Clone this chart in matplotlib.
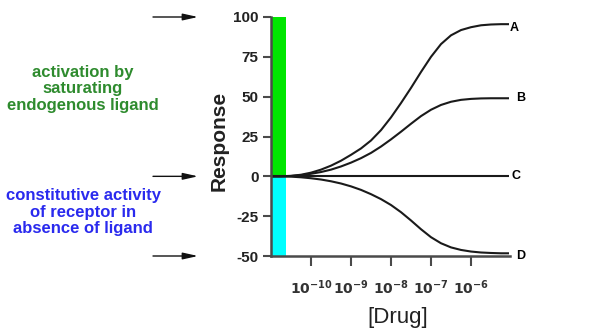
import numpy as np
import matplotlib
matplotlib.use("Agg")
import matplotlib.pyplot as plt

plt.rcParams['font.family'] = ['Liberation Sans', 'DejaVu Sans']
plt.rcParams['mathtext.default'] = 'regular'

# ---- data ----
log_conc = [-11.0, -10.75, -10.5, -10.25, -10.0, -9.75, -9.5, -9.25, -9.0, -8.75,
            -8.5, -8.25, -8.0, -7.75, -7.5, -7.25, -7.0, -6.75, -6.5, -6.25,
            -6.0, -5.75, -5.5, -5.25, -5.05]
resp_A = [0, 0, 0.3, 1.0, 2.3, 4.2, 6.7, 9.8, 13.5, 17.5,
          22.5, 29.0, 37.0, 46.0, 55.5, 65.5, 75.0, 83.0, 88.5, 91.8,
          93.6, 94.8, 95.3, 95.5, 95.5]
resp_B = [0, 0, 0.2, 0.7, 1.6, 2.7, 4.2, 6.2, 8.6, 11.4,
          14.7, 18.7, 23.2, 28.0, 33.0, 37.8, 41.8, 44.8, 46.8, 48.0,
          48.6, 48.9, 49.0, 49.0, 49.0]
resp_C = [0] * len(log_conc)
resp_D = [0, 0, -0.2, -0.6, -1.2, -2.0, -3.1, -4.5, -6.3, -8.5,
          -11.2, -14.3, -18.0, -22.5, -27.7, -33.2, -38.2, -42.0, -44.6, -46.2,
          -47.2, -47.8, -48.1, -48.3, -48.3]
curve_names = ['A', 'B', 'C', 'D']

bar_values = [100, -50]          # saturating endogenous ligand / constitutive activity
bar_colors = ['#00e600', '#00ffff']

yticks = [-50, -25, 0, 25, 50, 75, 100]
xtick_exps = [-10, -9, -8, -7, -6]
xtick_labels = [r'$\mathbf{10^{-10}}$', r'$\mathbf{10^{-9}}$', r'$\mathbf{10^{-8}}$',
                r'$\mathbf{10^{-7}}$', r'$\mathbf{10^{-6}}$']
arrow_levels = [100, 0, -50]

green_text = "activation by\nsaturating\nendogenous ligand"
blue_text = "constitutive activity\nof receptor in\nabsence of ligand"

# ---- figure ----
W, H = 606, 332
fig = plt.figure(figsize=(W / 100, H / 100), dpi=100)
ax = fig.add_axes([271 / W, 1 - 256 / H, (510 - 271) / W, (256 - 17) / H])
ax.set_xscale('log')
ax.set_xlim(1e-11, 10 ** -5.025)
ax.set_ylim(-50, 100)

drug = 10 ** np.array(log_conc)

# bars at the left edge
bar_left = 1e-11
bar_width = 10 ** -10.6375 - 1e-11
for v, c in zip(bar_values, bar_colors):
    ax.bar(bar_left, v, width=bar_width, align='edge', color=c, linewidth=0, zorder=1)

curve_color = '#1a1a1a'
offsets = {'A': (1, -4), 'B': (7, 0), 'C': (3, 0), 'D': (7, -3)}
for name, vals in zip(curve_names, [resp_A, resp_B, resp_C, resp_D]):
    ax.plot(drug, vals, color=curve_color, lw=1.5, zorder=3,
            solid_capstyle='butt', solid_joinstyle='round')
    ax.annotate(name, xy=(drug[-1], vals[-1]), xytext=offsets[name],
                textcoords='offset pixels', ha='left', va='center',
                fontsize=9, fontweight='bold', color='black', annotation_clip=False)

# axes styling
spine_color = '#4a4a4a'
for s in ['top', 'right']:
    ax.spines[s].set_visible(False)
for s in ['left', 'bottom']:
    ax.spines[s].set_color(spine_color)
    ax.spines[s].set_linewidth(1.8)
    ax.spines[s].set_zorder(4)

ax.set_yticks(yticks)
ax.set_yticklabels([str(t) for t in yticks])
ax.tick_params(axis='y', direction='out', length=6, width=1.5, color=spine_color,
               pad=3, labelsize=11, labelcolor='#222222')
for lbl in ax.get_yticklabels():
    lbl.set_fontweight('bold')

ax.xaxis.set_minor_locator(matplotlib.ticker.NullLocator())
ax.set_xticks([10.0 ** e for e in xtick_exps])
ax.set_xticklabels(xtick_labels)
ax.tick_params(axis='x', direction='out', length=7, width=1.5, color=spine_color,
               pad=9, labelsize=10, labelcolor='#333333')

ax.set_ylabel('Response', fontsize=15, fontweight='bold', color='#222222')
ax.yaxis.set_label_coords(-0.176, 0.48)
ax.set_xlabel('[Drug]', fontsize=16, color='#222222')
ax.xaxis.set_label_coords(0.531, -0.215)

# arrows on the left
for lev in arrow_levels:
    ax.annotate('', xy=(198 / W, lev), xytext=(153 / W, lev),
                xycoords=('figure fraction', 'data'), textcoords=('figure fraction', 'data'),
                arrowprops=dict(arrowstyle='-|>,head_length=0.9,head_width=0.2',
                                mutation_scale=10, color='#111111', lw=1,
                                shrinkA=0, shrinkB=0),
                annotation_clip=False)

fig.text(83 / W, 1 - 89 / H, green_text, ha='center', va='center', fontsize=12,
         fontweight='bold', color='#2e8b2e', linespacing=1.15)
fig.text(83 / W, 1 - 212 / H, blue_text, ha='center', va='center', fontsize=12,
         fontweight='bold', color='#2a2aee', linespacing=1.15)

fig.savefig('out.png', dpi=100)
